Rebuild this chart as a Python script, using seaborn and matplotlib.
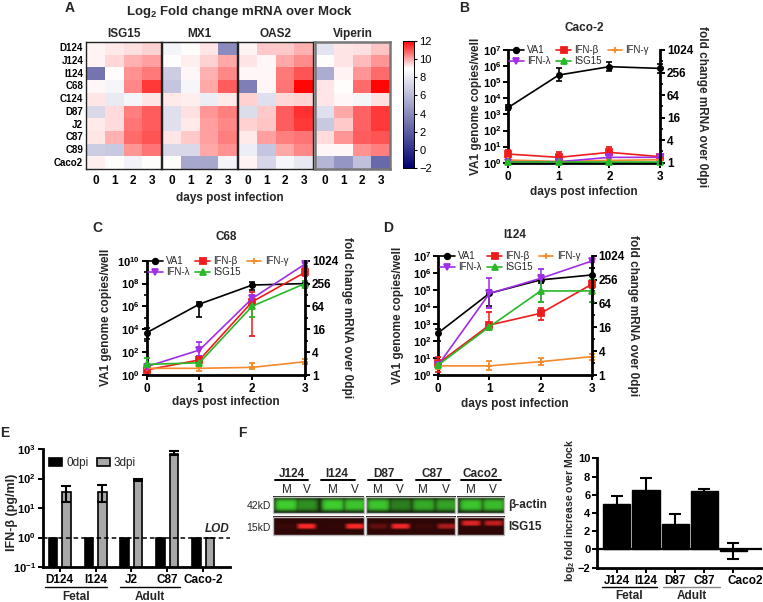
import numpy as np
import pandas as pd
import matplotlib
matplotlib.use('Agg')
import matplotlib.pyplot as plt
import seaborn as sns
from matplotlib.colors import LinearSegmentedColormap, to_rgb
from matplotlib.transforms import Affine2D, ScaledTranslation
from matplotlib.patches import Rectangle
from matplotlib.lines import Line2D
from matplotlib.ticker import FixedLocator, FixedFormatter, NullFormatter

# ---------------- DATA ----------------
hm_rows = ['D124', 'J124', 'I124', 'C68', 'C124', 'D87', 'J2', 'C87', 'C89', 'Caco2']
hm_days = ['0', '1', '2', '3']
hm_genes = ['ISG15', 'MX1', 'OAS2', 'Viperin']
hm_isg15 = [[9.15, 9.25, 9.35, 9.5], [9.15, 9.45, 9.9, 10.1], [3.0, 9.0, 10.3, 10.55],
            [9.1, 8.6, 10.4, 11.3], [9.3, 8.1, 8.6, 9.3], [7.3, 9.4, 10.5, 10.9],
            [9.25, 9.4, 10.6, 10.9], [9.3, 9.9, 10.7, 11.0], [6.8, 6.6, 10.2, 10.6],
            [9.2, 9.0, 8.4, 9.0]]
hm_mx1 = [[8.5, 9.0, 9.3, 4.0], [9.0, 9.2, 9.5, 10.0], [6.8, 9.1, 9.9, 10.4],
          [6.5, 8.6, 10.0, 10.9], [9.25, 9.2, 8.2, 9.25], [7.6, 9.35, 10.2, 10.5],
          [7.6, 9.25, 10.1, 10.4], [9.3, 9.6, 10.1, 10.5], [7.3, 7.3, 10.0, 10.3],
          [9.0, 5.2, 5.2, 8.5]]
hm_oas2 = [[9.15, 9.6, 9.6, 9.9], [9.3, 9.1, 10.0, 10.35], [9.05, 9.1, 10.55, 11.0],
           [3.5, 9.05, 10.6, 11.9], [9.5, 7.6, 9.45, 9.5], [7.5, 9.6, 10.9, 11.4],
           [9.5, 9.7, 10.9, 11.3], [9.25, 10.1, 10.5, 10.6], [8.2, 6.5, 10.0, 10.4],
           [9.15, 7.2, 8.6, 8.0]]
hm_viperin = [[7.8, 9.3, 9.35, 9.7], [9.0, 9.3, 9.8, 10.2], [5.4, 9.15, 10.2, 10.7],
              [9.3, 9.0, 10.7, 11.9], [9.3, 9.05, 8.5, 9.35], [7.6, 10.0, 10.8, 11.3],
              [6.6, 9.6, 10.8, 11.3], [9.4, 10.2, 10.9, 11.0], [9.1, 9.1, 10.3, 10.5],
              [5.8, 4.5, 6.3, 2.5]]

days = [0, 1, 2, 3]
series_names = ['VA1', 'IFN-β', 'IFN-γ', 'IFN-λ', 'ISG15']

# Panel B (Caco-2): VA1 copies/well (left axis), others fold change (right axis)
b_va1 = [2.7e3, 2.8e5, 9.2e5, 7.2e5]
b_va1_lo = [1.8e3, 1.2e5, 5e5, 4e5]
b_va1_hi = [4e3, 8e5, 1.9e6, 1.4e6]
b_beta = [1.7, 1.39, 1.89, 1.45]; b_beta_lo = [1.3, 1.1, 1.35, 1.25]; b_beta_hi = [2.2, 1.97, 2.68, 1.7]
b_gam = [1.18, 1.08, 1.15, 1.2]; b_gam_lo = [1.05, 1.0, 1.05, 1.1]; b_gam_hi = [1.3, 1.15, 1.25, 1.3]
b_lam = [1.06, 1.06, 1.39, 1.39]; b_lam_lo = [1.0, 1.0, 1.2, 1.2]; b_lam_hi = [1.12, 1.12, 1.6, 1.6]
b_isg = [1.02, 1.02, 1.02, 1.02]; b_isg_lo = [1.0, 1.0, 1.0, 1.0]; b_isg_hi = [1.05, 1.05, 1.05, 1.05]

# Panel C (C68)
c_va1 = [5e3, 1.6e6, 7.4e7, 1e8]
c_va1_lo = [1.3e3, 1.3e5, 3e7, 8e7]
c_va1_hi = [1.2e4, 2.5e6, 1.4e8, 1.3e8]
c_beta = [1.36, 2.5, 85, 505]; c_beta_lo = [1.2, 2.0, 10.6, 400]; c_beta_hi = [1.6, 3.1, 157, 640]
c_gam = [1.5, 1.5, 1.59, 2.24]; c_gam_lo = [1.35, 1.3, 1.4, 1.95]; c_gam_hi = [1.7, 1.7, 2.1, 2.6]
c_lam = [1.66, 4.55, 104, 833]; c_lam_lo = [1.4, 3.2, 80, 760]; c_lam_hi = [1.9, 7.5, 130, 900]
c_isg = [1.9, 2.1, 65, 256]; c_isg_lo = [1.6, 1.8, 34, 191]; c_isg_hi = [2.75, 2.5, 90, 300]

# Panel D (I124)
d_va1 = [3e2, 6.2e4, 3.8e5, 7.4e5]
d_va1_lo = [1e2, 1.1e4, 2.4e5, 1.9e5]
d_va1_hi = [5e2, 1e5, 7e5, 2e6]
d_beta = [1.97, 18.2, 36, 194]; d_beta_lo = [1.2, 15, 24, 160]; d_beta_hi = [2.9, 39.5, 48, 249]
d_gam = [1.7, 1.7, 2.17, 2.9]; d_gam_lo = [1.4, 1.3, 1.75, 2.35]; d_gam_hi = [2.0, 2.2, 2.65, 3.4]
d_lam = [1.8, 114, 274, 750]; d_lam_lo = [1.5, 50, 71, 700]; d_lam_hi = [2.1, 286, 471, 800]
d_isg = [1.8, 16.5, 132, 132]; d_isg_lo = [1.5, 14, 71, 71]; d_isg_hi = [2.1, 19, 333, 249]

# Panel E: IFN-beta protein
e_cells = ['D124', 'I124', 'J2', 'C87', 'Caco-2']
e_0dpi = [1.0, 1.0, 1.0, 1.0, 1.0]
e_3dpi = [35, 35, 92, 700, 0.93]
e_3dpi_lo = [16, 16, 85, 640, 0.93]
e_3dpi_hi = [57, 60, 100, 830, 0.93]

# Panel F: western blot intensities (M, V per cell line) and quantification
blot_groups = ['J124', 'I124', 'D87', 'C87', 'Caco2']
blot_lanes = ['M', 'V'] * 5
actin_int = [1.0, 0.65, 1.0, 0.95, 0.95, 0.55, 0.8, 0.75, 0.95, 0.9]
isg15_int = [0.06, 1.0, 0.03, 1.0, 0.25, 0.95, 0.08, 0.6, 0.85, 0.7]
f_cells = ['J124', 'I124', 'D87', 'C87', 'Caco2']
f_vals = [5.0, 6.5, 2.8, 6.4, -0.15]
f_err = [0.85, 1.3, 1.1, 0.25, 0.85]

# ---------------- STYLE ----------------
sns.set_theme(style='ticks')
plt.rcParams.update({
    'font.family': ['Liberation Sans', 'DejaVu Sans'],
    'font.weight': 'bold',
    'axes.labelweight': 'bold',
    'mathtext.fontset': 'custom',
    'mathtext.rm': 'Liberation Sans:bold',
    'mathtext.bf': 'Liberation Sans:bold',
    'mathtext.it': 'Liberation Sans:bold:italic',
    'mathtext.default': 'bf',
    'axes.linewidth': 1.6,
    'xtick.major.width': 1.4, 'ytick.major.width': 1.4,
    'xtick.minor.width': 1.2, 'ytick.minor.width': 1.2,
    'xtick.major.size': 3.5, 'ytick.major.size': 3.5,
    'ytick.minor.size': 2.2,
    'xtick.color': 'black', 'ytick.color': 'black',
    'axes.edgecolor': 'black',
})

W, H = 763, 602
fig = plt.figure(figsize=(W / 100, H / 100), dpi=100)
PX = Affine2D().scale(1 / W, -1 / H).translate(0, 1) + fig.transFigure


def pax(x0, y0, x1, y1):
    return fig.add_axes([x0 / W, 1 - y1 / H, (x1 - x0) / W, (y1 - y0) / H])


def T(x, y, s, **kw):
    kw.setdefault('ha', 'center')
    kw.setdefault('va', 'center')
    return fig.text(x, y, s, transform=PX, **kw)


# panel letters
for lab, (x, y) in zip('ABCDEF', [(70, 8), (464, 8), (97, 228), (388, 228), (5, 433), (242, 433)]):
    T(x, y, lab, fontsize=10, weight='bold')

# ---------------- PANEL A: heatmaps ----------------
cmap = LinearSegmentedColormap.from_list('bwr_c', [(0, '#000070'), (11 / 14, '#ffffff'), (1, '#ff0000')])
hm_data = [hm_isg15, hm_mx1, hm_oas2, hm_viperin]
hm_boxes = [(86, 161), (162, 237), (238, 313), (315, 390)]
cax = pax(403, 41, 414, 168)
for k, (gene, mat, (x0, x1)) in enumerate(zip(hm_genes, hm_data, hm_boxes)):
    ax = pax(x0, 42, x1, 169)
    df = pd.DataFrame(mat, index=hm_rows, columns=hm_days)
    sns.heatmap(df, ax=ax, cmap=cmap, vmin=-2, vmax=12, cbar=(k == 3),
                cbar_ax=cax if k == 3 else None,
                xticklabels=True, yticklabels=(k == 0), linewidths=0)
    ax.set_xlabel('')
    ax.set_ylabel('')
    ax.tick_params(axis='both', length=0)
    ax.tick_params(axis='x', pad=4, labelsize=8.5)
    ax.tick_params(axis='y', pad=2, labelsize=7)
    for t in ax.get_xticklabels():
        t.set_rotation(0); t.set_fontweight('bold')
    for t in ax.get_yticklabels():
        t.set_rotation(0); t.set_fontweight('bold')
    for s in ax.spines.values():
        s.set_visible(True)
        s.set_linewidth(1.8 if k == 3 else 1.0)
        s.set_edgecolor('#777777' if k == 3 else '#222222')
    T((x0 + x1) / 2, 34, gene, fontsize=8.5, weight='bold')
cax.tick_params(labelsize=8, length=2, width=0.8, pad=2)
cax.set_yticks([-2, 0, 2, 4, 6, 8, 10, 12])
for t in cax.get_yticklabels():
    t.set_fontweight('normal')
for s in cax.spines.values():
    s.set_visible(True); s.set_linewidth(0.6)
T(240, 12, 'Log$_2$ Fold change mRNA over Mock', fontsize=9.5, weight='bold')
T(230, 198, 'days post infection', fontsize=8.5, weight='bold')

# ---------------- PANELS B, C, D: line charts ----------------
colors = {'VA1': 'black', 'IFN-β': '#ee1c1c', 'IFN-γ': '#f58a2a', 'IFN-λ': '#a12ee6', 'ISG15': '#28b828'}
markers = {'VA1': 'o', 'IFN-β': 's', 'IFN-γ': '+', 'IFN-λ': 'v', 'ISG15': '^'}
msizes = {'VA1': 4, 'IFN-β': 4.2, 'IFN-γ': 4.5, 'IFN-λ': 4.2, 'ISG15': 4.2}


def sup(e):
    return r'$10^{%d}$' % e


def line_panel(box, title, title_y, va1, va1_lo, va1_hi, others, left_max, major_exps, minor_exps,
               ylab_x, y2lab_x, xlab_y, leg_xy):
    ax = pax(*box)
    ax.set_yscale('log')
    ax.set_ylim(1, 10 ** left_max)
    ax.set_xlim(0, 3)
    ax2 = ax.twinx()
    ax2.set_yscale('log', base=2)
    ax2.set_ylim(1, 1024)
    va1 = np.array(va1)
    ax.errorbar(days, va1, yerr=[va1 - np.array(va1_lo), np.array(va1_hi) - va1],
                color=colors['VA1'], marker='o', ms=msizes['VA1'], lw=1.2,
                capsize=2.5, elinewidth=1.2, capthick=1.2, clip_on=False, zorder=5)
    for name, (m, lo, hi) in others.items():
        m = np.array(m)
        ax2.errorbar(days, m, yerr=[m - np.array(lo), np.array(hi) - m],
                     color=colors[name], marker=markers[name], ms=msizes[name], lw=1.2,
                     mew=1.3, capsize=2.5, elinewidth=1.1, capthick=1.1, clip_on=False)
    for a in (ax, ax2):
        a.spines['top'].set_visible(False)
        a.spines[['left', 'right', 'bottom']].set_linewidth(2)
    ax.spines['right'].set_visible(False)
    ax2.spines[['left', 'bottom']].set_visible(False)
    ax.set_xticks(days)
    ax.set_xticklabels([str(d) for d in days])
    ax.yaxis.set_major_locator(FixedLocator([10.0 ** e for e in major_exps]))
    ax.yaxis.set_major_formatter(FixedFormatter([sup(e) for e in major_exps]))
    ax.yaxis.set_minor_locator(FixedLocator([10.0 ** e for e in minor_exps]))
    ax.yaxis.set_minor_formatter(NullFormatter())
    r_major = [1, 4, 16, 64, 256, 1024]
    ax2.yaxis.set_major_locator(FixedLocator(r_major))
    ax2.yaxis.set_major_formatter(FixedFormatter([str(v) for v in r_major]))
    ax2.yaxis.set_minor_locator(FixedLocator([2, 8, 32, 128, 512]))
    ax2.yaxis.set_minor_formatter(NullFormatter())
    ax.tick_params(axis='both', which='both', direction='out', labelsize=8, pad=1.5)
    ax.tick_params(axis='x', pad=2.5, labelsize=8.5)
    ax2.tick_params(axis='y', which='both', direction='out', labelsize=8.5, pad=1.5)
    for t in ax.get_xticklabels() + ax2.get_yticklabels():
        t.set_fontweight('bold')
    cy = (box[1] + box[3]) / 2
    ax.set_ylabel('VA1 genome copies/well', fontsize=8.5, va='center', ha='center',
                  rotation=90, rotation_mode='anchor')
    ax.yaxis.set_label_coords(ylab_x, cy, transform=PX)
    ax2.set_ylabel('fold change mRNA over 0dpi', fontsize=8.5, va='center', ha='center',
                   rotation=270, rotation_mode='anchor')
    ax2.yaxis.set_label_coords(y2lab_x, cy, transform=PX)
    ax.set_xlabel('days post infection', fontsize=8.5, va='center')
    ax.xaxis.set_label_coords((box[0] + box[2]) / 2, xlab_y, transform=PX)
    T((box[0] + box[2]) / 2, title_y, title, fontsize=8.5, weight='bold')
    order = ['VA1', 'IFN-λ', 'IFN-β', 'ISG15', 'IFN-γ']
    handles = [Line2D([], [], color=colors[n], marker=markers[n], ms=msizes[n], lw=1.2, mew=1.3)
               for n in order]
    ax2.legend(handles, order, ncol=3, loc='upper left',
               bbox_to_anchor=leg_xy, bbox_transform=PX, frameon=False,
               prop={'weight': 'normal', 'size': 7}, handlelength=1.5,
               handletextpad=0.35, columnspacing=0.6, labelspacing=0.15,
               borderpad=0, borderaxespad=0)
    return ax, ax2


line_panel((508.3, 50, 660, 162.7), 'Caco-2', 28, b_va1, b_va1_lo, b_va1_hi,
           {'IFN-β': (b_beta, b_beta_lo, b_beta_hi), 'IFN-γ': (b_gam, b_gam_lo, b_gam_hi),
            'IFN-λ': (b_lam, b_lam_lo, b_lam_hi), 'ISG15': (b_isg, b_isg_lo, b_isg_hi)},
           7, range(0, 8), [], 476, 702, 192, (509, 45))
line_panel((146.7, 260.7, 305, 375), 'C68', 237, c_va1, c_va1_lo, c_va1_hi,
           {'IFN-β': (c_beta, c_beta_lo, c_beta_hi), 'IFN-γ': (c_gam, c_gam_lo, c_gam_hi),
            'IFN-λ': (c_lam, c_lam_lo, c_lam_hi), 'ISG15': (c_isg, c_isg_lo, c_isg_hi)},
           10, range(0, 11, 2), range(1, 10, 2), 106, 347, 402, (148, 256))
line_panel((438.3, 255.7, 591.7, 375), 'I124', 235, d_va1, d_va1_lo, d_va1_hi,
           {'IFN-β': (d_beta, d_beta_lo, d_beta_hi), 'IFN-γ': (d_gam, d_gam_lo, d_gam_hi),
            'IFN-λ': (d_lam, d_lam_lo, d_lam_hi), 'ISG15': (d_isg, d_isg_lo, d_isg_hi)},
           7, range(0, 8), [], 398, 633, 404, (440, 251))

# ---------------- PANEL E ----------------
ax_e = pax(42.7, 449, 230, 567)
df_e = pd.DataFrame({'cell': e_cells * 2,
                     'dpi': ['0dpi'] * len(e_cells) + ['3dpi'] * len(e_cells),
                     'val': e_0dpi + e_3dpi})
sns.barplot(data=df_e, x='cell', y='val', hue='dpi', palette=['black', '#a8a8a8'],
            width=0.76, gap=0.39, edgecolor='black', linewidth=1.2, errorbar=None,
            saturation=1, ax=ax_e)
ax_e.set_yscale('log')
ax_e.set_ylim(0.1, 1000)
ax_e.set_xlim(-0.47, 4.74)
gray_x = [p.get_x() + p.get_width() / 2 for p in ax_e.containers[1].patches]
e3 = np.array(e_3dpi)
ax_e.errorbar(gray_x[:4], e3[:4], yerr=[(e3 - np.array(e_3dpi_lo))[:4], (np.array(e_3dpi_hi) - e3)[:4]],
              fmt='none', ecolor='black', elinewidth=1.5, capsize=3.5, capthick=1.5)
ax_e.axhline(1, ls=(0, (3, 2)), color='black', lw=1.1, zorder=6)
ax_e.text(4.37, 1.25, 'LOD', style='italic', weight='bold', fontsize=8.5, ha='center', va='bottom')
ax_e.yaxis.set_major_locator(FixedLocator([0.1, 1, 10, 100, 1000]))
ax_e.yaxis.set_major_formatter(FixedFormatter([sup(e) for e in range(-1, 4)]))
ax_e.yaxis.set_minor_locator(FixedLocator([]))
ax_e.spines[['top', 'right']].set_visible(False)
ax_e.spines[['left', 'bottom']].set_linewidth(2)
ax_e.tick_params(axis='both', direction='out', labelsize=8.5, pad=1.5)
ax_e.tick_params(axis='y', labelsize=8)
for t in ax_e.get_xticklabels():
    t.set_fontweight('bold')
ax_e.set_xlabel('')
ax_e.set_ylabel('IFN-β (pg/ml)', fontsize=9, va='center', ha='center', rotation=90,
                rotation_mode='anchor')
ax_e.yaxis.set_label_coords(12, 512, transform=PX)
ax_e.legend(ncol=2, loc='upper left', bbox_to_anchor=(49, 457), bbox_transform=PX,
            frameon=False, prop={'weight': 'normal', 'size': 8.5}, handlelength=1.1,
            handleheight=0.75, handletextpad=0.35, columnspacing=0.7, borderpad=0, borderaxespad=0)
for (xa, xb, lab, col) in [(45, 106.7, 'Fetal', 'black'), (120, 180, 'Adult', 'black')]:
    fig.add_artist(Line2D([xa, xb], [586.7, 586.7], transform=PX, color=col, lw=1))
    T((xa + xb) / 2, 597, lab, fontsize=8.5, weight='bold')

# ---------------- PANEL F: blot ----------------
ax_b = pax(240, 440, 520, 600)
ax_b.set_xlim(240, 520)
ax_b.set_ylim(600, 440)
ax_b.axis('off')
lane_x = [286.7, 306.7, 333, 355, 378, 400, 423, 445.7, 470.7, 493]
blot_boxes = [(273.3, 364, range(0, 4)), (365.7, 455, range(4, 8)), (456.7, 504, range(8, 10))]


def band_img(x0, x1, y0, y1, lanes, ints, ycs, hh, hw, bg, fg, s=4):
    nx = int((x1 - x0) * s); ny = int((y1 - y0) * s)
    xs = x0 + (np.arange(nx) + 0.5) / s
    ys = y0 + (np.arange(ny) + 0.5) / s
    X, Y = np.meshgrid(xs, ys)
    A = np.zeros_like(X)
    for i in lanes:
        A = np.maximum(A, ints[i] * np.exp(-((X - lane_x[i]) / hw) ** 6) * np.exp(-((Y - ycs[i]) / hh) ** 4))
    bg = np.array(to_rgb(bg)); fg = np.array(to_rgb(fg))
    return np.clip(bg + A[..., None] * (fg - bg), 0, 1)


green_yc = [505] * 10
red_yc = [526.5] * 8 + [523.5, 523.5]
for (x0, x1, lanes) in blot_boxes:
    img = band_img(x0, x1, 496.7, 512.7, lanes, actin_int, green_yc, 5.8, 12, '#141d0c', '#3fcf2f')
    ax_b.imshow(img, extent=(x0, x1, 512.7, 496.7), aspect='auto', interpolation='bilinear')
    ax_b.add_patch(Rectangle((x0, 496.7), x1 - x0, 16, fill=False, ec='#bbbbbb', lw=1))
    img = band_img(x0, x1, 516.7, 535, lanes, isg15_int, red_yc, 2.6, 9.5, '#2e0606', '#ff2a2a')
    ax_b.imshow(img, extent=(x0, x1, 535, 516.7), aspect='auto', interpolation='bilinear')
    ax_b.add_patch(Rectangle((x0, 516.7), x1 - x0, 18.3, fill=False, ec='#bbbbbb', lw=1))
ax_b.set_xlim(240, 520)
ax_b.set_ylim(600, 440)
grp_x = [291.7, 337, 384, 432.3, 480.7]
grp_line = [(275, 308), (321, 355), (367.7, 401.7), (416, 450), (461, 500.7)]
for g, gx, (la, lb) in zip(blot_groups, grp_x, grp_line):
    ax_b.text(gx, 474, g, ha='center', va='center', fontsize=8.5, weight='bold')
    ax_b.plot([la, lb], [480, 480], color='black', lw=1.4)
for lx, ll in zip(lane_x, blot_lanes):
    ax_b.text(lx, 490, ll, ha='center', va='center', fontsize=8.5, weight='normal')
ax_b.text(271, 506, '42kD', ha='right', va='center', fontsize=7.5, weight='normal')
ax_b.text(271, 528, '15kD', ha='right', va='center', fontsize=7.5, weight='normal')
ax_b.text(508, 505, 'β-actin', ha='left', va='center', fontsize=8.5, weight='bold', clip_on=False)
ax_b.text(508, 527, 'ISG15', ha='left', va='center', fontsize=8.5, weight='bold', clip_on=False)

# ---------------- PANEL F: quantification ----------------
ax_f = pax(597.3, 458.3, 762, 567.7)
sns.barplot(x=f_cells, y=f_vals, color='black', width=0.93, errorbar=None, saturation=1,
            edgecolor='black', ax=ax_f)
bar_x = [p.get_x() + p.get_width() / 2 for p in ax_f.patches]
ax_f.errorbar(bar_x, f_vals, yerr=f_err, fmt='none', ecolor='black', elinewidth=1.5,
              capsize=4, capthick=1.5, zorder=5)
ax_f.axhline(0, color='black', lw=1.6)
ax_f.set_ylim(-2, 10)
ax_f.set_xlim(-0.67, 4.98)
ax_f.set_yticks([-2, 0, 2, 4, 6, 8, 10])
ax_f.spines[['top', 'right']].set_visible(False)
ax_f.spines[['left', 'bottom']].set_linewidth(2)
ax_f.tick_params(axis='both', direction='out', labelsize=8.5, pad=1.5)
ax_f.tick_params(axis='y', labelsize=8)
for t in ax_f.get_xticklabels() + ax_f.get_yticklabels():
    t.set_fontweight('bold')
last = ax_f.get_xticklabels()[-1]
last.set_transform(last.get_transform() + ScaledTranslation(0.12, 0, fig.dpi_scale_trans))
ax_f.set_ylabel('log$_2$ fold increase over Mock', fontsize=7.5, va='center', ha='center',
                rotation=90, rotation_mode='anchor')
ax_f.yaxis.set_label_coords(570, 510, transform=PX)
for (xa, xb, lab, col) in [(601.7, 656.7, 'Fetal', 'black'), (663, 720, 'Adult', '#888888')]:
    fig.add_artist(Line2D([xa, xb], [586.7, 586.7], transform=PX, color=col, lw=1))
    T((xa + xb) / 2, 596, lab, fontsize=8.5, weight='bold')

fig.savefig('out.png', dpi=100)
